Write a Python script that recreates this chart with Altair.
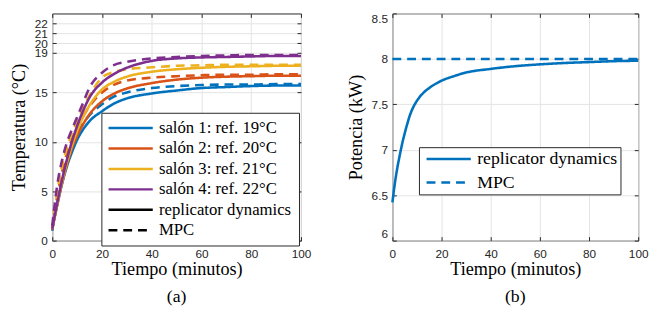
import altair as alt
import pandas as pd

# ---------------- data ----------------
t_temp = [0, 2, 4, 6, 8, 10, 12, 15, 20, 25, 30, 40, 50, 60, 70, 80, 90, 100]

rd_1 = [1.2, 3.6, 5.8, 7.6, 9.0, 10.2, 11.1, 12.1, 13.1, 13.9, 14.4, 14.9, 15.2, 15.45, 15.55, 15.65, 15.7, 15.7]
rd_2 = [1.2, 3.6, 5.9, 7.8, 9.4, 10.6, 11.6, 12.8, 14.1, 14.9, 15.4, 15.95, 16.3, 16.5, 16.6, 16.65, 16.7, 16.7]
rd_3 = [1.2, 3.7, 6.0, 8.0, 9.7, 11.1, 12.3, 13.7, 15.3, 16.1, 16.6, 17.1, 17.35, 17.5, 17.6, 17.65, 17.7, 17.7]
rd_4 = [1.2, 3.8, 6.2, 8.3, 10.1, 11.6, 12.9, 14.5, 16.0, 16.9, 17.5, 18.2, 18.45, 18.55, 18.6, 18.65, 18.7, 18.7]

mpc_1 = [1.0, 4.1, 6.5, 8.3, 9.7, 10.8, 11.7, 12.7, 13.8, 14.6, 15.0, 15.45, 15.65, 15.75, 15.8, 15.8, 15.85, 15.85]
mpc_2 = [1.1, 4.5, 7.0, 8.9, 10.3, 11.4, 12.4, 13.6, 15.0, 15.8, 16.2, 16.5, 16.65, 16.75, 16.8, 16.8, 16.85, 16.85]
mpc_3 = [1.3, 5.0, 7.6, 9.5, 10.9, 12.1, 13.2, 14.7, 16.5, 17.1, 17.35, 17.55, 17.7, 17.75, 17.8, 17.8, 17.8, 17.8]
mpc_4 = [1.5, 5.6, 8.2, 10.0, 11.3, 12.5, 13.7, 15.5, 17.0, 17.8, 18.1, 18.45, 18.6, 18.7, 18.75, 18.8, 18.8, 18.8]

t_pow = [0, 1, 2, 3, 4, 5, 6, 7, 8, 10, 12, 15, 20, 25, 30, 40, 50, 60, 70, 80, 90, 100]
p_rd = [6.42, 6.63, 6.80, 6.94, 7.07, 7.18, 7.28, 7.37, 7.44, 7.54, 7.61, 7.68, 7.76, 7.81,
        7.85, 7.89, 7.92, 7.94, 7.955, 7.965, 7.975, 7.98]
p_mpc = [8.0, 8.0, 8.0, 8.0, 8.0, 8.0, 8.0, 8.0, 8.0, 8.0, 8.0, 8.0, 8.0, 8.0,
         8.0, 8.0, 8.0, 8.0, 8.0, 8.0, 8.0, 8.0]

salones = ["salón 1: ref. 19°C", "salón 2: ref. 20°C", "salón 3: ref. 21°C", "salón 4: ref. 22°C"]
methods = ["replicator dynamics", "MPC"]
x_ticks = [0, 20, 40, 60, 80, 100]
temp_ticks = [0, 5, 10, 15, 19, 20, 21, 22]
pow_ticks = [6, 6.5, 7, 7.5, 8, 8.5]

# ---------------- styling ----------------
W1, W2, H = 253, 250, 231
FRAME = "#262626"
GRID = "#e3e3e3"
SANS = "Liberation Sans"
SERIF = "Liberation Serif"
colors4 = ["#0072BD", "#D95319", "#EDB120", "#7E2F8E"]
SOLID = [1, 0]
DASH = [9, 6]
LEG_PATH = "M-4.5,0L4.5,0"   # 45 px long stroke with symbolSize 100

keys = salones + methods
key_colors = colors4 + ["#000000", "#000000"]
key_dashes = [SOLID] * 5 + [DASH]

# ---------------- tables ----------------
rows = []
for name, rd, mpc in zip(salones, [rd_1, rd_2, rd_3, rd_4], [mpc_1, mpc_2, mpc_3, mpc_4]):
    for t, v in zip(t_temp, rd):
        rows.append({"t": t, "T": v, "salon": name, "method": methods[0]})
    for t, v in zip(t_temp, mpc):
        rows.append({"t": t, "T": v, "salon": name, "method": methods[1]})
df_temp = pd.DataFrame(rows)

prow = []
for t, v in zip(t_pow, p_rd):
    prow.append({"t": t, "P": v, "method": methods[0]})
for t, v in zip(t_pow, p_mpc):
    prow.append({"t": t, "P": v, "method": methods[1]})
df_pow = pd.DataFrame(prow)

# single in-range anchor rows for the extra (tick-only) axis layers
anchor_temp = pd.DataFrame({"t": [50], "v": [10]})
anchor_pow = pd.DataFrame({"t": [50], "v": [7]})


def main_x():
    return alt.Axis(orient="bottom", values=x_ticks, title="Tiempo (minutos)", grid=True,
                    gridColor=GRID, ticks=False, tickSize=0, domain=False, labelFont=SANS,
                    labelFontSize=12, labelColor=FRAME, labelPadding=8, labelFlush=False,
                    titleFont=SERIF, titleFontSize=18.5, titleFontWeight="normal",
                    titleColor="black", titlePadding=1)


def main_y(title, vals, flush=False, **kw):
    return alt.Axis(orient="left", values=vals, title=title, grid=True, gridColor=GRID,
                    ticks=False, tickSize=0, domain=False, labelFont=SANS, labelFontSize=12,
                    labelColor=FRAME, labelPadding=5, labelOverlap=False, labelFlush=flush,
                    titleFont=SERIF, titleFontSize=18.5, titleFontWeight="normal",
                    titleColor="black", titlePadding=6, **kw)


def tick_axis(orient, vals, off):
    return alt.Axis(orient=orient, values=vals, offset=off, labels=False, domain=False,
                    grid=False, ticks=True, tickSize=4, tickColor=FRAME, tickWidth=1,
                    title=None, minExtent=0, maxExtent=0)


def caption(txt):
    return alt.TitleParams(txt, orient="bottom", font=SERIF, fontSize=18, fontWeight="normal",
                           color="black", offset=10, anchor="middle", frame="group")


def legend(x, y, fs, pad, rowpad, symoff, laboff):
    return alt.Legend(orient="none", legendX=x, legendY=y, title=None, symbolType=LEG_PATH,
                      symbolSize=100, symbolStrokeWidth=2.5, symbolOffset=symoff,
                      labelFont=SERIF, labelFontSize=fs, labelColor="black",
                      labelOffset=laboff, padding=pad, rowPadding=rowpad, fillColor="white",
                      strokeColor=FRAME, labelLimit=0)


# ---------------- left panel ----------------
xs1 = alt.Scale(domain=[0, 100], nice=False, zero=False)
ys1 = alt.Scale(domain=[0, 23], nice=False, zero=False)
cs1 = alt.Scale(domain=keys, range=key_colors)
ds1 = alt.Scale(domain=keys, range=key_dashes)
leg1 = legend(50, 101, 17, 7, 2.8, 14.25, 20.25)

lines1 = alt.Chart(df_temp).mark_line(strokeWidth=2.6, interpolate="monotone").encode(
    x=alt.X("t:Q", scale=xs1, axis=main_x()),
    y=alt.Y("T:Q", scale=ys1, axis=main_y("Temperatura (°C)", temp_ticks)),
    color=alt.Color("salon:N", scale=cs1, legend=leg1),
    strokeDash=alt.StrokeDash("method:N", scale=ds1, legend=leg1),
    detail="method:N",
)
ticks1a = alt.Chart(anchor_temp).mark_line().encode(
    x=alt.X("t:Q", scale=xs1, axis=tick_axis("top", x_ticks, -H)),
    y=alt.Y("v:Q", scale=ys1, axis=tick_axis("right", temp_ticks, -W1)),
)
ticks1b = alt.Chart(anchor_temp).mark_line().encode(
    x=alt.X("t:Q", scale=xs1, axis=tick_axis("bottom", x_ticks, -H)),
    y=alt.Y("v:Q", scale=ys1, axis=tick_axis("left", temp_ticks, -W1)),
)
left = alt.layer(lines1, ticks1a, ticks1b).resolve_scale(
    x="independent", y="independent").properties(width=W1, height=H, title=caption("(a)"))

# ---------------- right panel ----------------
xs2 = alt.Scale(domain=[0, 100], nice=False, zero=False)
ys2 = alt.Scale(domain=[6, 8.5], nice=False, zero=False)
cs2 = alt.Scale(domain=methods, range=["#0072BD", "#0072BD"])
ds2 = alt.Scale(domain=methods, range=[SOLID, DASH])
leg2 = legend(27, 136, 18, 3, 6, 18.25, 20)

lines2 = alt.Chart(df_pow).mark_line(strokeWidth=2.6, interpolate="monotone").encode(
    x=alt.X("t:Q", scale=xs2, axis=main_x()),
    y=alt.Y("P:Q", scale=ys2, axis=main_y("Potencia (kW)", pow_ticks, flush=True,
                                           format="~g")),
    color=alt.Color("method:N", scale=cs2, legend=leg2),
    strokeDash=alt.StrokeDash("method:N", scale=ds2, legend=leg2),
)
ticks2a = alt.Chart(anchor_pow).mark_line().encode(
    x=alt.X("t:Q", scale=xs2, axis=tick_axis("top", x_ticks, -H)),
    y=alt.Y("v:Q", scale=ys2, axis=tick_axis("right", pow_ticks, -W2)),
)
ticks2b = alt.Chart(anchor_pow).mark_line().encode(
    x=alt.X("t:Q", scale=xs2, axis=tick_axis("bottom", x_ticks, -H)),
    y=alt.Y("v:Q", scale=ys2, axis=tick_axis("left", pow_ticks, -W2)),
)
right = alt.layer(lines2, ticks2a, ticks2b).resolve_scale(
    x="independent", y="independent").properties(width=W2, height=H, title=caption("(b)"))

chart = alt.hconcat(left, right, spacing=34).resolve_scale(
    color="independent", strokeDash="independent"
).resolve_legend(color="independent", strokeDash="independent").properties(
    padding={"left": 1, "top": 1, "right": 0, "bottom": 0}
).configure_view(stroke=FRAME, strokeWidth=1)

chart.save("out.html", embed_options={"renderer": "svg", "actions": False})
